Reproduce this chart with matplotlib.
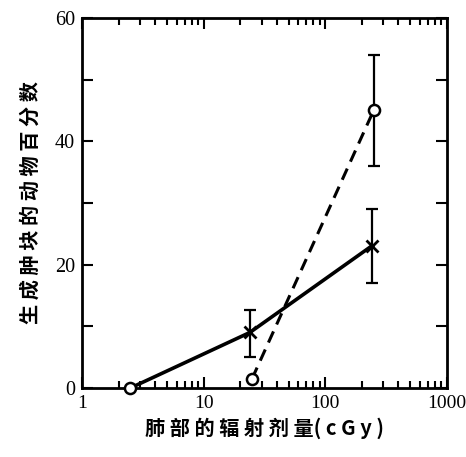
import matplotlib
matplotlib.use('Agg')
import matplotlib.pyplot as plt
from matplotlib.ticker import LogLocator, NullFormatter, FixedLocator

# solid series (x markers)
solid_x = [2.5, 24, 240]
solid_y = [0, 9, 23]
solid_lo = [0, 5, 17]
solid_hi = [0, 12.6, 29]

# dashed series (open circles)
dash_x = [25, 250]
dash_y = [1.5, 45]
dash_lo = [1.5, 36]
dash_hi = [1.5, 54]

xticks = [1, 10, 100, 1000]
xticklabels = ['1', '10', '100', '1000']
yticks = [0, 20, 40, 60]

serif = ['Liberation Serif', 'DejaVu Serif']
cjk = ['Noto Sans CJK SC', 'DejaVu Sans']

fig = plt.figure(figsize=(4.66, 4.57), dpi=100)
ax = fig.add_axes([0.176, 0.151, 0.783, 0.810])

ax.plot(solid_x, solid_y, '-', color='black', lw=2.6, zorder=3)
ax.plot(solid_x[1:], solid_y[1:], 'x', color='black', ms=8, mew=2, zorder=4)
ax.plot(solid_x[:1], solid_y[:1], 'o', mfc='white', mec='black', ms=8, mew=1.8, zorder=4, clip_on=False)
s_err = [[y - l for y, l in zip(solid_y[1:], solid_lo[1:])],
         [h - y for y, h in zip(solid_y[1:], solid_hi[1:])]]
ax.errorbar(solid_x[1:], solid_y[1:], yerr=s_err, fmt='none', ecolor='black',
            elinewidth=1.6, capsize=4, capthick=1.6, zorder=3)

ax.plot(dash_x, dash_y, '--', color='black', lw=2.2, dashes=(4, 2.5), zorder=3)
ax.plot(dash_x, dash_y, 'o', mfc='white', mec='black', ms=8, mew=1.8, zorder=4)
d_err = [[y - l for y, l in zip(dash_y[1:], dash_lo[1:])],
         [h - y for y, h in zip(dash_y[1:], dash_hi[1:])]]
ax.errorbar(dash_x[1:], dash_y[1:], yerr=d_err, fmt='none', ecolor='black',
            elinewidth=1.6, capsize=4, capthick=1.6, zorder=3)

ax.set_xscale('log')
ax.set_xlim(1, 1000)
ax.set_ylim(0, 60)
ax.xaxis.set_major_locator(FixedLocator(xticks))
ax.xaxis.set_minor_locator(LogLocator(base=10, subs=range(2, 10)))
ax.xaxis.set_minor_formatter(NullFormatter())
ax.set_xticks(xticks)
ax.set_xticklabels(xticklabels, family=serif, fontsize=14)
ax.set_yticks(yticks)
ax.set_yticks([10, 30, 50], minor=True)
ax.set_yticklabels([str(t) for t in yticks], family=serif, fontsize=14.5)

ax.tick_params(which='both', direction='in', top=True, right=True, width=1.5)
ax.tick_params(which='major', length=8, pad=5)
ax.tick_params(axis='y', which='minor', length=8)
ax.tick_params(axis='x', which='minor', length=5)
for sp in ax.spines.values():
    sp.set_linewidth(2)

ax.set_xlabel('肺 部 的 辐 射 剂 量( c G y )', family=cjk, fontsize=14.5,
              fontweight='bold', labelpad=4)
ax.set_ylabel('生 成 肿 块 的 动 物 百 分 数', family=cjk, fontsize=14.5,
              fontweight='bold', labelpad=10)

fig.savefig('out.png', dpi=100)
